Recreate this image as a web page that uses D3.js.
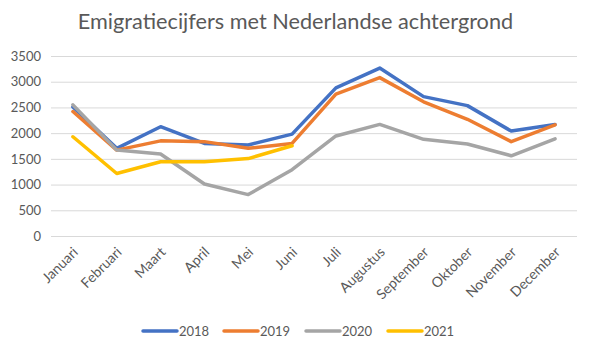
<!DOCTYPE html>
<html>
<head>
<meta charset="utf-8">
<script src="https://cdn.jsdelivr.net/npm/d3@7/dist/d3.min.js"></script>
<style>
  html, body { margin: 0; padding: 0; background: #fff; }
  svg { display: block; font-family: Lato, "Open Sans", sans-serif; }
</style>
</head>
<body>
<svg id="chart" width="589" height="346"></svg>
<script>
// Maanden en emigratiecijfers per jaar
const months = ["Januari", "Februari", "Maart", "April", "Mei", "Juni", "Juli",
  "Augustus", "September", "Oktober", "November", "December"];
const v2018 = [2510, 1705, 2125, 1800, 1770, 1980, 2880, 3265, 2710, 2535, 2040, 2170];
const v2019 = [2420, 1670, 1850, 1835, 1705, 1800, 2760, 3080, 2610, 2270, 1835, 2160];
const v2020 = [2550, 1670, 1595, 1010, 805, 1290, 1945, 2170, 1880, 1790, 1560, 1890];
const v2021 = [1930, 1215, 1445, 1445, 1505, 1755];
const years = ["2018", "2019", "2020", "2021"];
const colors = ["#4472C4", "#ED7D31", "#A5A5A5", "#FFC000"];
const yTicks = [0, 500, 1000, 1500, 2000, 2500, 3000, 3500];

const series = years.map((y, i) => ({ year: y, color: colors[i], values: [v2018, v2019, v2020, v2021][i] }));

const svg = d3.select("#chart");
const plot = { left: 51, right: 577, top: 56, bottom: 236 };

const x = d3.scaleBand().domain(months).range([plot.left, plot.right]);
const y = d3.scaleLinear().domain([0, 3500]).range([plot.bottom, plot.top]);

// Titel
svg.append("text")
  .attr("x", 295.5).attr("y", 29)
  .attr("text-anchor", "middle")
  .attr("font-size", 21.7)
  .attr("fill", "#595959")
  .text("Emigratiecijfers met Nederlandse achtergrond");

// Rasterlijnen en y-as
const yAxis = svg.append("g")
  .attr("transform", `translate(${plot.left},0)`)
  .call(d3.axisLeft(y).tickValues(yTicks).tickSize(-(plot.right - plot.left)).tickPadding(10).tickFormat(d3.format("d")));
yAxis.select(".domain").remove();
yAxis.selectAll(".tick line").attr("stroke", "#D9D9D9").attr("stroke-width", 1);
yAxis.selectAll(".tick text").attr("fill", "#595959").attr("font-size", 13).attr("font-family", "Lato, sans-serif");

// x-as labels, 45 graden gedraaid
const xAxis = svg.append("g")
  .attr("transform", `translate(0,${plot.bottom})`)
  .call(d3.axisBottom(x).tickSize(0).tickPadding(0));
xAxis.select(".domain").remove();
xAxis.selectAll(".tick text")
  .attr("fill", "#595959")
  .attr("font-size", 14)
  .attr("font-family", "Lato, sans-serif")
  .attr("text-anchor", "end")
  .attr("dy", "0")
  .attr("transform", "translate(6,17) rotate(-45)");

// Lijnen
const line = d3.line()
  .x((d, i) => x(months[i]) + x.bandwidth() / 2)
  .y(d => y(d));

svg.append("g").selectAll("path")
  .data(series)
  .join("path")
  .attr("d", d => line(d.values))
  .attr("fill", "none")
  .attr("stroke", d => d.color)
  .attr("stroke-width", 3.5)
  .attr("stroke-linejoin", "round")
  .attr("stroke-linecap", "round");

// Legenda
const legendX = [143, 224, 306, 388];
const legend = svg.append("g").selectAll("g")
  .data(series)
  .join("g")
  .attr("transform", (d, i) => `translate(${legendX[i]},331)`);
legend.append("line")
  .attr("x1", 0).attr("x2", 34).attr("y1", 0).attr("y2", 0)
  .attr("stroke", d => d.color).attr("stroke-width", 3.5).attr("stroke-linecap", "round");
legend.append("text")
  .attr("x", 36).attr("y", 5)
  .attr("font-size", 13)
  .attr("fill", "#595959")
  .text(d => d.year);
</script>
</body>
</html>
